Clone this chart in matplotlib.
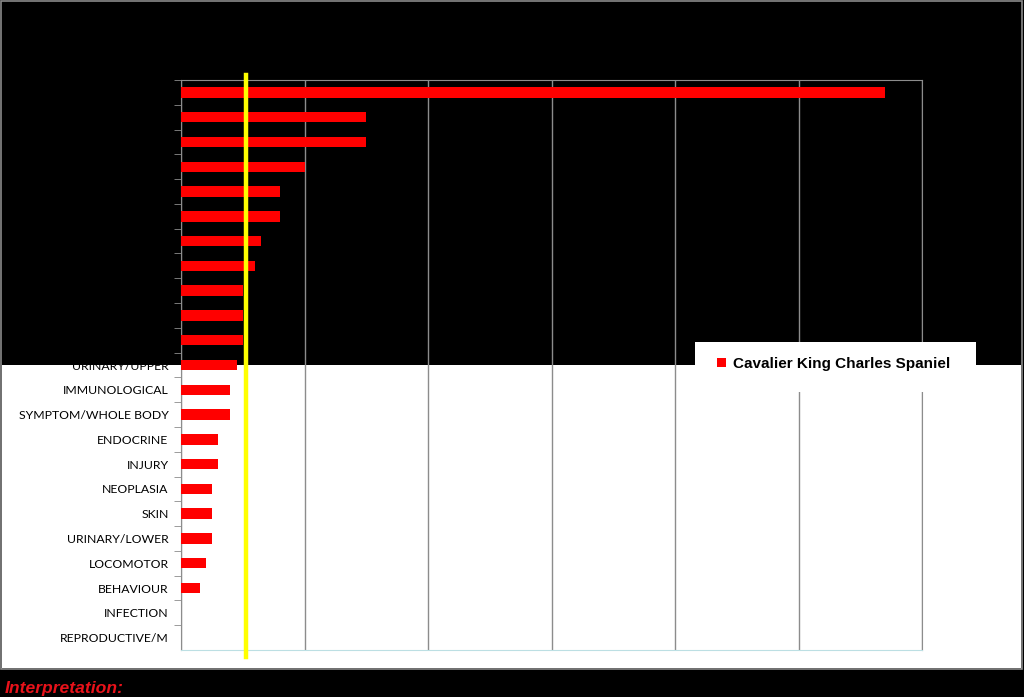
import numpy as np
import matplotlib
matplotlib.use("Agg")
import matplotlib.pyplot as plt
from matplotlib.patches import Rectangle

# disorder groups, top to bottom (top 11 labels are black on black in the original)
categories = ["CARDIAC", "DIGESTIVE", "OCULAR", "AURAL", "DENTAL", "RESPIRATORY",
              "NEUROLOGICAL", "MUSCULOSKELETAL", "HEPATIC", "CONGENITAL", "METABOLIC",
              "URINARY/UPPER", "IMMUNOLOGICAL", "SYMPTOM/WHOLE BODY", "ENDOCRINE",
              "INJURY", "NEOPLASIA", "SKIN", "URINARY/LOWER", "LOCOMOTOR",
              "BEHAVIOUR", "INFECTION", "REPRODUCTIVE/M"]
counts = [114, 30, 30, 20, 16, 16, 13, 12, 10, 10, 10,
          9, 8, 8, 6, 6, 5, 5, 5, 4, 3, 0, 0]
series_name = "Cavalier King Charles Spaniel"
marker_value = 10.5
x_ticks = [0, 20, 40, 60, 80, 100, 120]

W, H = 1024, 697
fig = plt.figure(figsize=(W / 100, H / 100), dpi=100, facecolor="black")

# background layer: black top, white lower panel, grey frame
bg = fig.add_axes([0, 0, 1, 1], zorder=-10)
bg.set_xlim(0, W); bg.set_ylim(H, 0); bg.axis("off")
bg.add_patch(Rectangle((2, 365), 1019, 303, facecolor="white", edgecolor="none"))
bg.add_patch(Rectangle((1, 1), 1021, 668, facecolor="none", edgecolor="#8a8a8a", lw=1.2))

ax = fig.add_axes([181 / W, 1 - 650 / H, 741 / W, 570 / H])
ax.set_facecolor("none")

y = np.arange(len(categories))
bars = ax.barh(y, counts, height=0.42, color="#ff0000", zorder=3, label=series_name)
ax.axvline(marker_value, ymin=-0.012, ymax=1.009, color="#ffff00", lw=3.2, zorder=4, clip_on=False)

ax.set_xlim(0, 120)
ax.set_ylim(len(categories) - 0.5, -0.5)
ax.set_xticks(x_ticks)
ax.set_xticklabels([])
ax.tick_params(axis="x", length=0)
ax.grid(axis="x", color="#8c8c8c", lw=1, zorder=1)
ax.set_yticks(y - 0.5, minor=True)
ax.set_yticks(y)
ax.set_yticklabels(categories, fontsize=8.8, family="Lato", color="black")
ax.tick_params(axis="y", which="major", length=0, pad=9)
ax.tick_params(axis="y", which="minor", length=5, color="#8c8c8c", direction="out")
for s in ["top", "left", "right"]:
    ax.spines[s].set_color("#8c8c8c")
ax.spines["bottom"].set_color("#bcdfe3")

# legend: white box overlapping the black/white boundary, covering the gridlines
fig.patches.append(Rectangle((695 / W, 1 - 392 / H), 281 / W, 50 / H, transform=fig.transFigure,
                             facecolor="white", edgecolor="none", zorder=5))
leg = fig.legend(handles=[bars], labels=[series_name], loc="center left",
                 bbox_to_anchor=(717 / W, 1 - 364 / H), bbox_transform=fig.transFigure,
                 frameon=False, prop={"family": "Liberation Sans", "weight": "bold", "size": 11},
                 handlelength=0.6, handleheight=0.6, handletextpad=0.45, borderpad=0, borderaxespad=0)
leg.set_zorder(6)

fig.text(5 / W, 1 - 688 / H, "Interpretation:", color="#e8121a", fontsize=12.6, fontweight="bold",
         fontstyle="italic", family="Liberation Sans", va="center", ha="left")

fig.savefig("out.png", dpi=100, facecolor="black")
